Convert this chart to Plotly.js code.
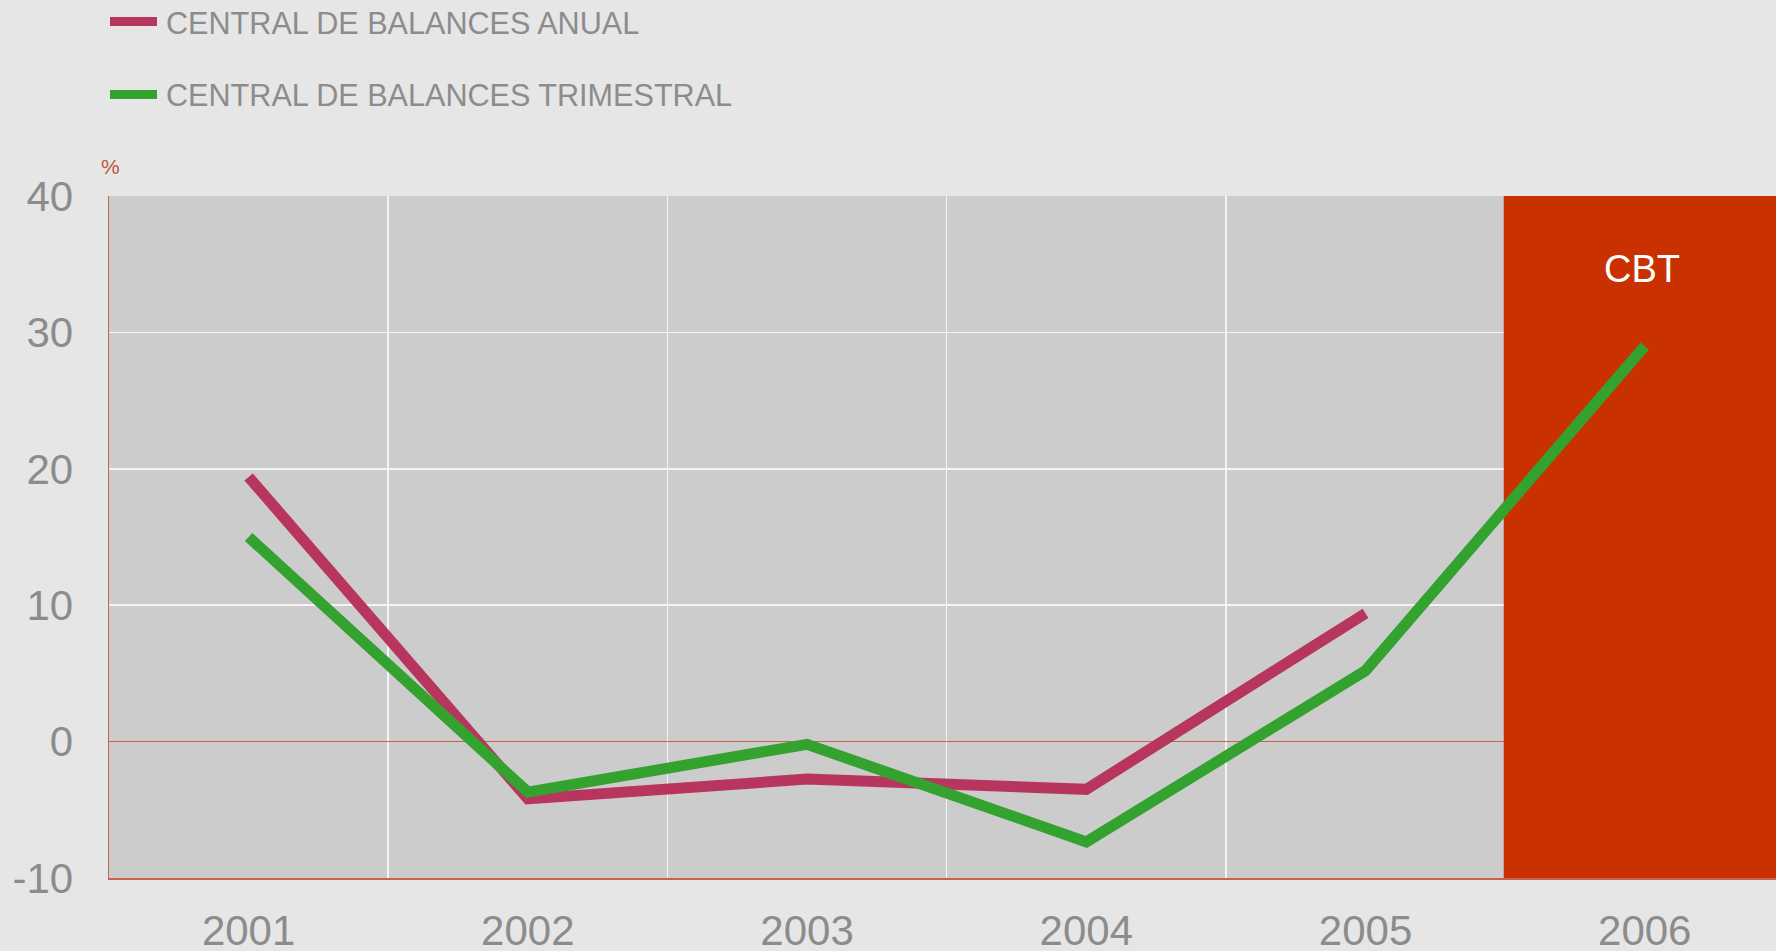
<!DOCTYPE html>
<html>
<head>
<meta charset="utf-8">
<script src="https://cdn.plot.ly/plotly-3.0.1.min.js"></script>
<style>
  html, body { margin: 0; padding: 0; background: #e6e6e6; }
  #chart { width: 1776px; height: 951px; }
</style>
</head>
<body>
<div id="chart"></div>
<script>
const years = ['2001', '2002', '2003', '2004', '2005', '2006'];
const anualYears = ['2001', '2002', '2003', '2004', '2005'];
const anualValues = [19.4, -4.2, -2.75, -3.5, 9.4];
const trimYears = ['2001', '2002', '2003', '2004', '2005', '2006'];
const trimValues = [15.0, -3.7, -0.2, -7.35, 5.2, 29.0];
const seriesNames = ['CENTRAL DE BALANCES ANUAL', 'CENTRAL DE BALANCES TRIMESTRAL'];
const seriesColors = ['#b8365e', '#34a22e'];
const yTicks = [-10, 0, 10, 20, 30, 40];
const shadedYear = '2006';
const shadedLabel = 'CBT';
const unitLabel = '%';

const W = 1776, H = 951;
const M = { l: 109, r: 0, t: 196, b: 73 };
const plotW = W - M.l - M.r, plotH = H - M.t - M.b;
const px2x = px => (px - M.l) / plotW;
const px2y = py => (H - M.b - py) / plotH;

const gray = '#8c8c8c';
const axisRed = '#c7654c';
const font = 'Liberation Sans, Arial, sans-serif';

const traces = [
  { x: anualYears, y: anualValues, name: seriesNames[0], type: 'scatter', mode: 'lines',
    line: { color: seriesColors[0], width: 11 }, hoverinfo: 'x+y' },
  { x: trimYears, y: trimValues, name: seriesNames[1], type: 'scatter', mode: 'lines',
    line: { color: seriesColors[1], width: 11 }, hoverinfo: 'x+y' }
];

const shadedIdx = years.indexOf(shadedYear);
const legendRowsPx = [21.5, 94.5];

const shapes = [
  { type: 'rect', xref: 'x', yref: 'y', x0: shadedIdx - 0.505, x1: shadedIdx + 0.6,
    y0: yTicks[0], y1: yTicks[yTicks.length - 1], fillcolor: '#c93200', line: { width: 0 }, layer: 'between' }
];
const annotations = [
  { xref: 'paper', yref: 'paper', x: px2x(1642), y: px2y(269), text: shadedLabel, showarrow: false,
    font: { family: font, size: 38, color: '#ffffff' }, xanchor: 'center', yanchor: 'middle' },
  { xref: 'paper', yref: 'paper', x: px2x(110), y: px2y(166), text: unitLabel, showarrow: false,
    font: { family: font, size: 21, color: '#c0553c' }, xanchor: 'center', yanchor: 'middle' }
];
seriesNames.forEach((n, i) => {
  shapes.push({ type: 'line', xref: 'paper', yref: 'paper', x0: px2x(110), x1: px2x(157),
    y0: px2y(legendRowsPx[i]), y1: px2y(legendRowsPx[i]), line: { color: seriesColors[i], width: 9 } });
  annotations.push({ xref: 'paper', yref: 'paper', x: px2x(164), y: px2y(legendRowsPx[i] + 1), text: n,
    showarrow: false, xanchor: 'left', yanchor: 'middle',
    font: { family: font, size: 30.6, color: gray } });
});

const layout = {
  width: W, height: H,
  margin: M,
  paper_bgcolor: '#e6e6e6',
  plot_bgcolor: '#cccccc',
  showlegend: false,
  font: { family: font, color: gray },
  xaxis: {
    type: 'category', categoryarray: years, range: [-0.5, 5.47],
    tickson: 'boundaries', ticks: '', showgrid: true, gridcolor: '#f4f4f4', gridwidth: 1.5,
    showline: true, linecolor: axisRed, linewidth: 1.5,
    tickfont: { family: font, size: 42, color: gray }, ticklabelstandoff: 15,
    zeroline: false, fixedrange: true
  },
  yaxis: {
    range: [yTicks[0], yTicks[yTicks.length - 1]], tickvals: yTicks, ticktext: yTicks.map(String),
    ticks: '', showgrid: true, gridcolor: '#f4f4f4', gridwidth: 1.5,
    showline: true, linecolor: axisRed, linewidth: 1.5,
    zeroline: true, zerolinecolor: axisRed, zerolinewidth: 1,
    tickfont: { family: font, size: 42, color: gray }, ticklabelstandoff: 26,
    fixedrange: true
  },
  shapes: shapes,
  annotations: annotations
};

Plotly.newPlot('chart', traces, layout, { displayModeBar: false, staticPlot: true });
</script>
</body>
</html>
